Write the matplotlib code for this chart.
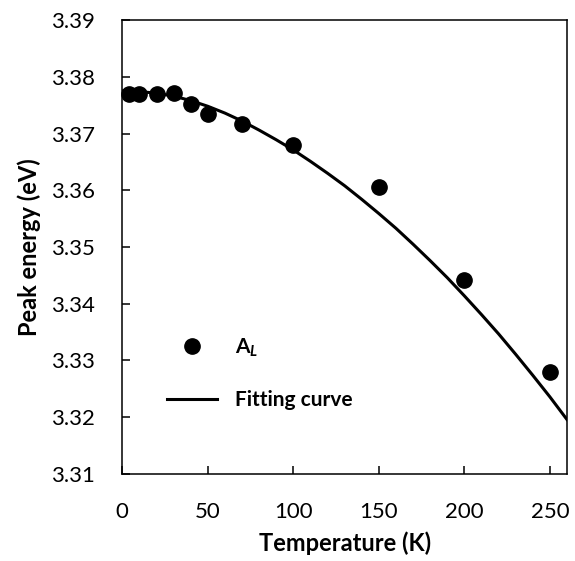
import matplotlib
matplotlib.use('Agg')
import matplotlib.pyplot as plt

plt.rcParams['font.family'] = ['Lato', 'DejaVu Sans']
plt.rcParams['mathtext.fontset'] = 'custom'
plt.rcParams['mathtext.rm'] = 'Lato'
plt.rcParams['mathtext.it'] = 'Lato:italic:bold'
plt.rcParams['mathtext.bf'] = 'Lato:bold'

# measured peak energies
temp = [4, 10, 20, 30, 40, 50, 70, 100, 150, 200, 250]
energy = [3.3770, 3.3770, 3.3770, 3.3771, 3.3752, 3.3734, 3.3716, 3.3679, 3.3605, 3.3442, 3.3280]

# fitting curve
fit_t = [0, 10, 20, 30, 40, 50, 60, 70, 80, 90, 100, 110, 120, 130, 140, 150,
         160, 170, 180, 190, 200, 210, 220, 230, 240, 250, 260]
fit_e = [3.3775, 3.3774, 3.3771, 3.3766, 3.3758, 3.3748, 3.3736, 3.3722, 3.3706,
         3.3689, 3.3671, 3.3651, 3.3630, 3.3608, 3.3584, 3.3559, 3.3533, 3.3505,
         3.3476, 3.3446, 3.3414, 3.3381, 3.3347, 3.3311, 3.3274, 3.3236, 3.3196]

fig = plt.figure(figsize=(5.75, 5.61), dpi=100)
ax = fig.add_axes([0.2127, 0.1551, 0.7733, 0.8092])

ax.plot(temp, energy, 'o', color='black', markersize=11, clip_on=False, zorder=3,
        label=r'$\mathbf{A}_{\mathit{L}}$')
ax.plot(fit_t, fit_e, '-', color='black', linewidth=2.2, label='Fitting curve')

ax.set_xlim(0, 260)
ax.set_ylim(3.31, 3.39)
ax.set_xticks([0, 50, 100, 150, 200, 250])
ax.set_yticks([3.31, 3.32, 3.33, 3.34, 3.35, 3.36, 3.37, 3.38, 3.39])
ax.set_yticklabels(['%.2f' % v for v in ax.get_yticks()])
ax.tick_params(direction='in', length=5.5, width=1.1, labelsize=16, pad=20)
for s in ax.spines.values():
    s.set_linewidth(1.1)

ax.set_xlabel('Temperature (K)', fontsize=17, fontweight='bold', labelpad=7)
ax.set_ylabel('Peak energy (eV)', fontsize=17, fontweight='bold', labelpad=7)

leg = ax.legend(loc='lower left', bbox_to_anchor=(0.101, 0.141), frameon=False,
                borderpad=0, borderaxespad=0, handlelength=2.4, handletextpad=0.87,
                labelspacing=1.5, prop={'size': 15, 'weight': 'bold'})

fig.savefig('out.png', dpi=100)
